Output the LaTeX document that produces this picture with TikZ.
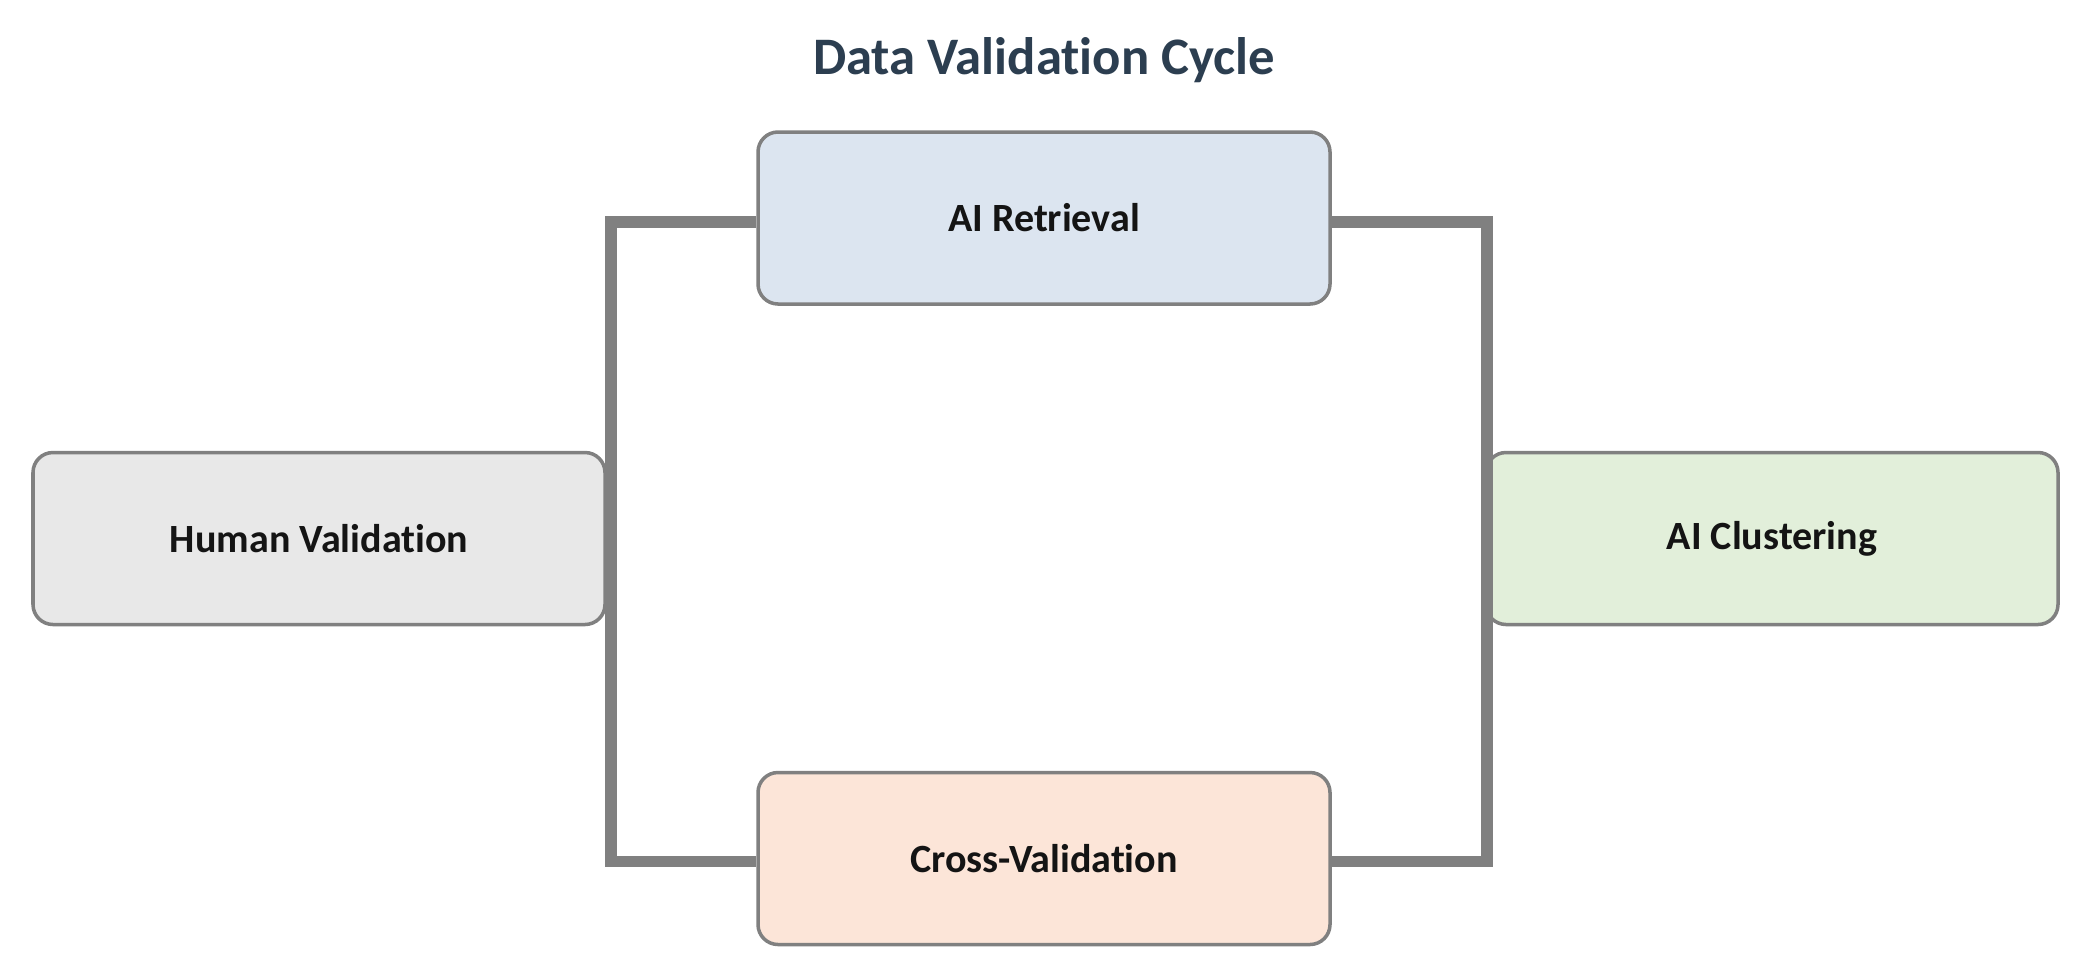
\documentclass[tikz,border=0pt]{standalone}
\usepackage{fontspec}
\setmainfont{Carlito}[Ligatures=NoCommon]
\usepackage{tikz}
\definecolor{titleblue}{RGB}{44,62,80}
\definecolor{linegray}{RGB}{128,128,128}
\definecolor{humfill}{RGB}{232,232,232}
\definecolor{retfill}{RGB}{220,229,240}
\definecolor{clufill}{RGB}{226,239,218}
\definecolor{crossfill}{RGB}{252,229,216}

\begin{document}
\begin{tikzpicture}[
	box/.style={draw=linegray, line width=1pt, rounded corners=0.2cm, minimum width=5.72cm, minimum height=1.72cm, inner sep=0pt, font=\fontsize{11.4}{14}\selectfont\bfseries, text=black!92},
	link/.style={draw=linegray, line width=3.4pt}
	]
	\useasboundingbox (0,0) rectangle (20.87,-9.69);
	\node[font=\fontsize{15}{18}\selectfont\bfseries, text=titleblue] (title) at (10.44,-0.6) {Data Validation Cycle};
	% boxes
	\node[box, fill=humfill] (hum) at (3.19,-5.385) {Human Validation};
	\node[box, fill=retfill] (ret) at (10.44,-2.18) {AI Retrieval};
	\node[box, fill=clufill] (clu) at (17.72,-5.385) {AI Clustering};
	\node[box, fill=crossfill] (cross) at (10.44,-8.585) {Cross-Validation};
	% connectors
	\draw[link] ([yshift=-0.04cm]ret.west) -| ([xshift=0.04cm]hum.east) |- ([yshift=-0.03cm]cross.west);
	\draw[link] ([yshift=-0.04cm]ret.east) -| ([xshift=0.03cm]clu.west) |- ([yshift=-0.03cm]cross.east);
\end{tikzpicture}
\end{document}
